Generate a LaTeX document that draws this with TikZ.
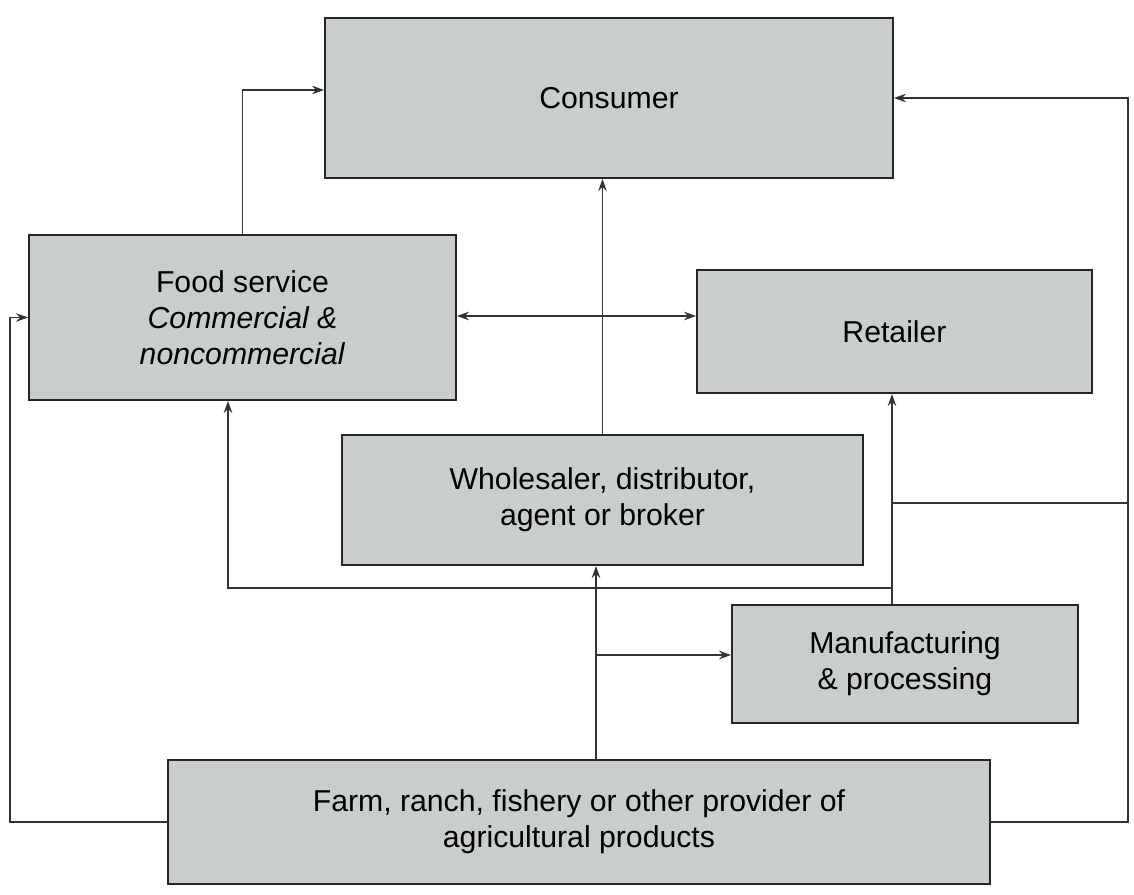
\documentclass[tikz,border=0pt]{standalone}
\usepackage{fontspec}
\setmainfont{Liberation Sans}
\usepackage{tikz}
\usetikzlibrary{arrows.meta}
\definecolor{boxgray}{RGB}{201,205,204}
\tikzset{
  box/.style={draw=black!85, line width=1.1pt, fill=boxgray, align=center,
    inner sep=0pt, font=\fontsize{17.2}{20.6}\selectfont},
  flow/.style={draw=black!80, line width=0.8pt,
    -{Stealth[length=2.4mm,width=1.7mm]}},
  twoway/.style={flow, {Stealth[length=2.4mm,width=1.7mm]}-{Stealth[length=2.4mm,width=1.7mm]}},
  plain/.style={draw=black!80, line width=0.8pt}
}
\begin{document}
\begin{tikzpicture}[x=0.02cm, y=-0.02cm]
      \useasboundingbox (0,0) rectangle (1134,895);
      \node[box, minimum width=11.36cm, minimum height=3.2cm] (consumer) at (609,98) {Consumer};
      \node[box, minimum width=8.54cm, minimum height=3.3cm] (foodserv) at (242.5,317.5)
      {Food service \\ \textit{Commercial \&} \\ \textit{noncommercial}};
      \node[box, minimum width=7.9cm, minimum height=2.46cm] (retailer) at (894.5,331.5) {Retailer};
      \node[box, minimum width=10.42cm, minimum height=2.6cm] (wholesale) at (602.5,500)
      {Wholesaler, distributor, \\ agent or broker};
      \node[box, minimum width=6.92cm, minimum height=2.36cm] (manuf) at (905,664)
      {Manufacturing \\ \& processing};
      \node[box, minimum width=16.44cm, minimum height=2.48cm] (farm) at (579,822)
      {Farm, ranch, fishery or other provider of \\ agricultural products};
      \coordinate (fork) at (596,655);
      \coordinate (rjoin) at (892,503);
      \coordinate (ljoin) at (892,588);
      \coordinate (rrail) at (1128,503);
      \coordinate (lrail) at (10,500);
      \coordinate (fsin) at (228,400);
      \draw[flow] (foodserv.north) |- ([yshift=0.16cm]consumer.west);
      \draw[flow] (farm.east) -| (rrail) |- (consumer.east);
      \draw[flow] (farm.west) -| (lrail) |- (foodserv.west);
      \draw[flow] (wholesale.north) -- (wholesale.north |- consumer.south);
      \draw[twoway] ([yshift=0.03cm]foodserv.east) -- ([yshift=0.03cm]foodserv.east -| retailer.west);
      \draw[flow] (fork |- farm.north) -- (fork |- wholesale.south);
      \draw[flow] (fork) -- (fork -| manuf.west);
      \draw[flow] (rjoin |- manuf.north) -- (rjoin |- retailer.south);
      \draw[plain] (rjoin) -- (rrail);
      \draw[flow] (ljoin) -| (fsin |- foodserv.south);
    \end{tikzpicture}
\end{document}
